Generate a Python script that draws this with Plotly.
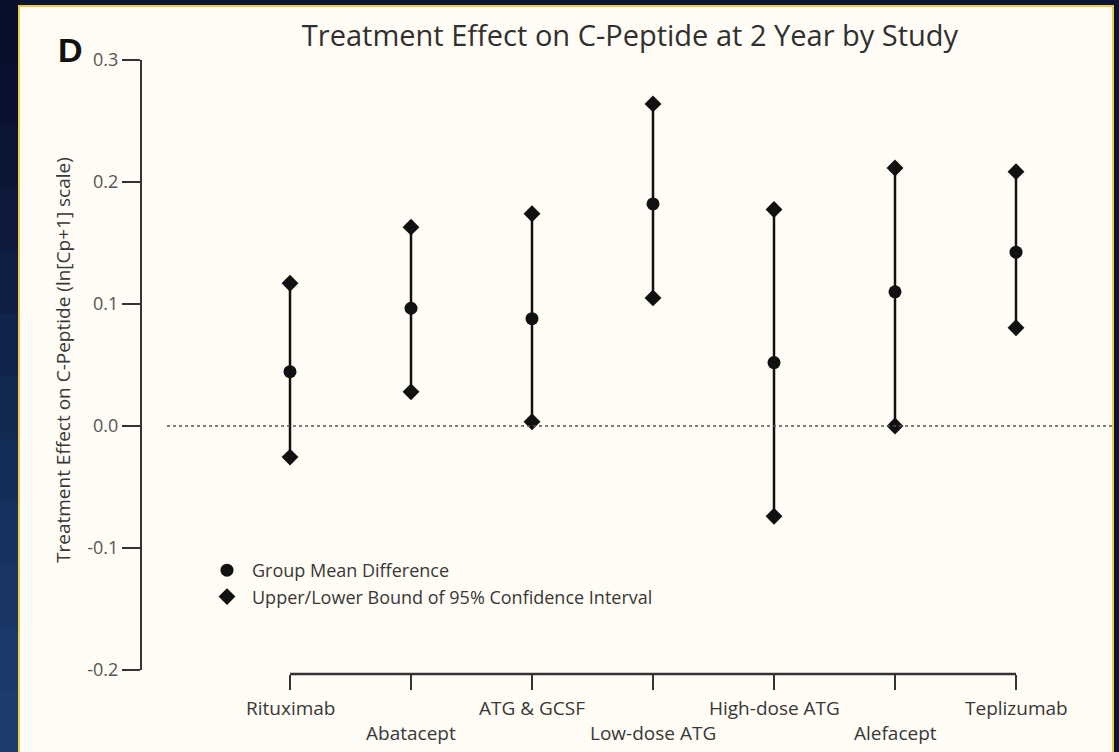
import plotly.graph_objects as go

# ---------------- data ----------------
studies = ["Rituximab", "Abatacept", "ATG & GCSF", "Low-dose ATG",
           "High-dose ATG", "Alefacept", "Teplizumab"]
mean_diff = [0.0445, 0.0965, 0.088, 0.182, 0.052, 0.110, 0.1425]
upper_ci = [0.117, 0.163, 0.174, 0.264, 0.1775, 0.2115, 0.2085]
lower_ci = [-0.0255, 0.028, 0.0035, 0.105, -0.074, 0.0, 0.0805]
ytick_vals = [-0.2, -0.1, 0.0, 0.1, 0.2, 0.3]
ytick_text = ["-0.2", "-0.1", "0.0", "0.1", "0.2", "0.3"]
title_text = "Treatment Effect on C-Peptide at 2 Year by Study"
ytitle_text = "Treatment Effect on C-Peptide (ln[Cp+1] scale)"
legend_mean = "Group Mean Difference"
legend_bound = "Upper/Lower Bound of 95% Confidence Interval"
panel_letter = "D"

# ---------------- geometry ----------------
W, H = 1119, 752
L, R, T, B = 141, 7, 60, 78
PW, PH = W - L - R, H - T - B


def px_x(px):
    return (px - L) / PW


def px_y(py):
    return (H - B - py) / PH


FONT = "Open Sans"
TXT = "#383838"
INK = "#111111"

xs = list(range(len(studies)))
x_range = [-149 / 121, (W - R - 290) / 121]
y_range = [-0.2 - 4 / 1220, 0.3]

fig = go.Figure()

# whiskers
wx, wy = [], []
for i, lo, hi in zip(xs, lower_ci, upper_ci):
    wx += [i, i, None]
    wy += [lo, hi, None]
fig.add_trace(go.Scatter(x=wx, y=wy, mode="lines",
                         line=dict(color=INK, width=2.5),
                         showlegend=False, hoverinfo="skip"))

fig.add_trace(go.Scatter(x=xs, y=mean_diff, mode="markers", name=legend_mean,
                         marker=dict(symbol="circle", size=13, color=INK)))
fig.add_trace(go.Scatter(x=xs + xs, y=upper_ci + lower_ci, mode="markers",
                         name=legend_bound,
                         marker=dict(symbol="diamond", size=13, color=INK)))

shapes = []
# background strips (gradient on the left edge)
left_cols = ["#081029", "#091230", "#0b1635", "#0d1a3b", "#0f1f43",
             "#11244b", "#132952", "#152d59", "#17325f", "#193665",
             "#1a3a6a", "#1c3d6e"]
n = len(left_cols)
for k, c in enumerate(left_cols):
    shapes.append(dict(type="rect", xref="paper", yref="paper", layer="below",
                       x0=px_x(0), x1=px_x(20),
                       y0=px_y(k * H / n), y1=px_y((k + 1) * H / n + 1),
                       fillcolor=c, line=dict(width=0)))
# cream panel
shapes.append(dict(type="rect", xref="paper", yref="paper", layer="below",
                   x0=px_x(19), x1=px_x(1113), y0=px_y(770), y1=px_y(6),
                   fillcolor="#fefcf4", line=dict(color="#f0c84a", width=2)))
# y-axis spine
shapes.append(dict(type="line", xref="paper", yref="y", x0=0, x1=0,
                   y0=-0.2, y1=0.3, line=dict(color="#333333", width=2)))
# x-axis spine
shapes.append(dict(type="line", xref="x", yref="paper", x0=0, x1=len(studies) - 1,
                   y0=0, y1=0, line=dict(color="#333333", width=2.5)))
# zero reference line
shapes.append(dict(type="line", xref="paper", yref="y", x0=px_x(167), x1=1,
                   y0=0, y1=0, line=dict(color="#555555", width=1.5, dash="dot")))

annotations = []
for i, s in enumerate(studies):
    annotations.append(dict(x=i, xref="x", y=0, yref="paper", text=s,
                            showarrow=False, xanchor="center", yanchor="middle",
                            yshift=-34 if i % 2 == 0 else -59,
                            font=dict(family=FONT, size=19, color=TXT)))
annotations.append(dict(x=px_x(70), y=px_y(50), xref="paper", yref="paper",
                        text="<b>" + panel_letter + "</b>", showarrow=False,
                        xanchor="center", yanchor="middle",
                        font=dict(family="Liberation Sans", size=34, color="#111111")))
annotations.append(dict(x=px_x(63), y=px_y(360), xref="paper", yref="paper",
                        text=ytitle_text, textangle=-90, showarrow=False,
                        xanchor="center", yanchor="middle",
                        font=dict(family=FONT, size=19, color=TXT)))

fig.update_layout(
    width=W, height=H, autosize=False,
    margin=dict(l=L, r=R, t=T, b=B),
    paper_bgcolor="#0b1634", plot_bgcolor="rgba(0,0,0,0)",
    title=dict(text=title_text, x=630 / W, xanchor="center",
               y=1 - 36 / H, yanchor="middle",
               font=dict(family=FONT, size=29, color="#303030")),
    shapes=shapes, annotations=annotations,
    showlegend=True,
    legend=dict(x=px_x(202), y=px_y(552), xanchor="left", yanchor="top",
                itemwidth=40,
                bgcolor="rgba(0,0,0,0)", font=dict(family=FONT, size=18, color=TXT),
                tracegroupgap=0),
    xaxis=dict(range=x_range, tickvals=xs, ticktext=[""] * len(xs),
               showgrid=False, zeroline=False, showline=False,
               ticks="outside", ticklen=15, tickwidth=2, tickcolor="#333333"),
    yaxis=dict(range=y_range, tickvals=ytick_vals, ticktext=ytick_text,
               showgrid=False, zeroline=False, showline=False,
               ticks="outside", ticklen=18, tickwidth=2, tickcolor="#333333",
               tickfont=dict(family=FONT, size=18, color="#555555")),
)

fig.write_html("out.html")
